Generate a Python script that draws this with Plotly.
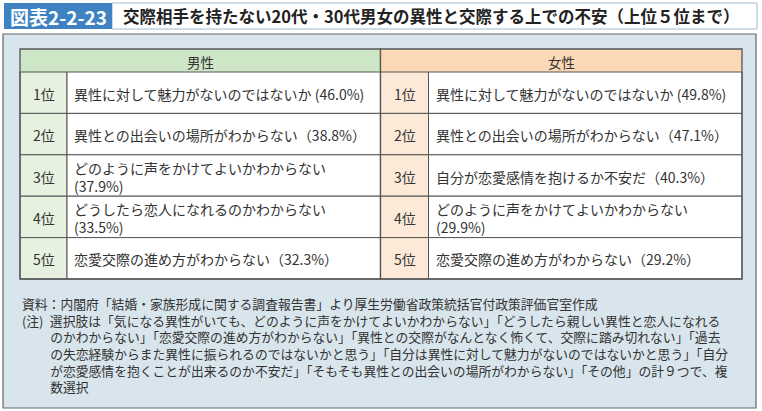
import plotly.graph_objects as go

# data
ranks = ["1位", "2位", "3位", "4位", "5位"]
groups = ["男性", "女性"]
male_items = [
    "異性に対して魅力がないのではないか",
    "異性との出会いの場所がわからない",
    "どのように声をかけてよいかわからない",
    "どうしたら恋人になれるのかわからない",
    "恋愛交際の進め方がわからない",
]
male_pct = [46.0, 38.8, 37.9, 33.5, 32.3]
female_items = [
    "異性に対して魅力がないのではないか",
    "異性との出会いの場所がわからない",
    "自分が恋愛感情を抱けるか不安だ",
    "どのように声をかけてよいかわからない",
    "恋愛交際の進め方がわからない",
]
female_pct = [49.8, 47.1, 40.3, 29.9, 29.2]

title_label = "図表2-2-23"
title_text = "交際相手を持たない20代・30代男女の異性と交際する上での不安（上位５位まで）"
source_note = "資料：内閣府「結婚・家族形成に関する調査報告書」より厚生労働省政策統括官付政策評価官室作成"
note_head = "(注)"
note_lines = [
    "選択肢は「気になる異性がいても、どのように声をかけてよいかわからない」「どうしたら親しい異性と恋人になれる",
    "のかわからない」「恋愛交際の進め方がわからない」「異性との交際がなんとなく怖くて、交際に踏み切れない」「過去",
    "の失恋経験からまた異性に振られるのではないかと思う」「自分は異性に対して魅力がないのではないかと思う」「自分",
    "が恋愛感情を抱くことが出来るのか不安だ」「そもそも異性との出会いの場所がわからない」「その他」の計９つで、複",
    "数選択",
]

FONT = "Noto Sans CJK JP"
TXT = "#333333"
LINE = "#555555"


def label(item, pct, i):
    if len(item) >= 18:
        return f"{item}<br>({pct:.1f}%)"
    if i == 0:
        return f"{item} ({pct:.1f}%)"
    return f"{item}（{pct:.1f}%）"


fig = go.Figure()
shapes = []
ann = []

# title bar
shapes.append(dict(type="rect", x0=112, x1=757, y0=3, y1=29,
                   fillcolor="white", line=dict(color="#9fbbd0", width=1)))
shapes.append(dict(type="rect", x0=4, x1=112, y0=3, y1=29,
                   fillcolor="#3f82c2", line=dict(width=0)))
ann.append(dict(x=58, y=16, text=f"<b>{title_label}</b>", showarrow=False,
                font=dict(size=19, color="white", family=FONT)))
ann.append(dict(x=121, y=16, text=f"<b>{title_text}</b>", showarrow=False, xanchor="left",
                font=dict(size=16.5, color="#222222", family=FONT)))

# panel
shapes.append(dict(type="rect", x0=3, x1=756, y0=34, y1=408,
                   fillcolor="#d9e5ec", line=dict(color="#666666", width=1.2)))

top, head_h, row_h = 49, 23, 41.4
tables = [
    dict(x0=20, x1=380.5, xr=67, head="#cde6c5", rank="#e6f1df",
         items=male_items, pct=male_pct),
    dict(x0=380.5, x1=742, xr=428.5, head="#fcd9b6", rank="#fde9d7",
         items=female_items, pct=female_pct),
]
bottom = top + head_h + row_h * len(ranks)
for g, t in zip(groups, tables):
    shapes.append(dict(type="rect", x0=t["x0"], x1=t["x1"], y0=top, y1=top + head_h,
                       fillcolor=t["head"], line=dict(width=0)))
    ann.append(dict(x=(t["x0"] + t["x1"]) / 2, y=top + head_h / 2 + 1, text=g, showarrow=False,
                    font=dict(size=13.5, color=TXT, family=FONT)))
    for i, r in enumerate(ranks):
        y0 = top + head_h + row_h * i
        y1 = y0 + row_h
        shapes.append(dict(type="rect", x0=t["x0"], x1=t["xr"], y0=y0, y1=y1,
                           fillcolor=t["rank"], line=dict(color=LINE, width=1)))
        shapes.append(dict(type="rect", x0=t["xr"], x1=t["x1"], y0=y0, y1=y1,
                           fillcolor="white", line=dict(color=LINE, width=1)))
        ann.append(dict(x=(t["x0"] + t["xr"]) / 2, y=(y0 + y1) / 2 + 1, text=r, showarrow=False,
                        font=dict(size=14, color=TXT, family=FONT)))
        ann.append(dict(x=t["xr"] + 5, y=(y0 + y1) / 2 + 1,
                        text=label(t["items"][i], t["pct"][i], i),
                        showarrow=False, xanchor="left", align="left",
                        font=dict(size=14, color=TXT, family=FONT)))
    shapes.append(dict(type="rect", x0=t["x0"], x1=t["x1"], y0=top, y1=bottom,
                       fillcolor="rgba(0,0,0,0)", line=dict(color=LINE, width=1.3)))

# notes: one text block, body lines indented to sit under the first body line
indent = "\u3000\u3000\u2009"
notes_text = "<br>".join(
    [source_note, note_head + "\u2002" + note_lines[0]]
    + [indent + s for s in note_lines[1:]]
)
ann.append(dict(x=20, y=291.5, text=notes_text, showarrow=False,
                xanchor="left", yanchor="top", align="left",
                font=dict(size=12.8, color=TXT, family=FONT)))

fig.update_layout(
    width=762, height=411,
    margin=dict(l=0, r=0, t=0, b=0),
    paper_bgcolor="white", plot_bgcolor="white",
    xaxis=dict(range=[0, 762], visible=False, fixedrange=True),
    yaxis=dict(range=[411, 0], visible=False, fixedrange=True),
    shapes=shapes, annotations=ann,
    showlegend=False,
)

fig.write_html("out.html", config=dict(displayModeBar=False),
               post_script="document.body.style.margin='0';")
